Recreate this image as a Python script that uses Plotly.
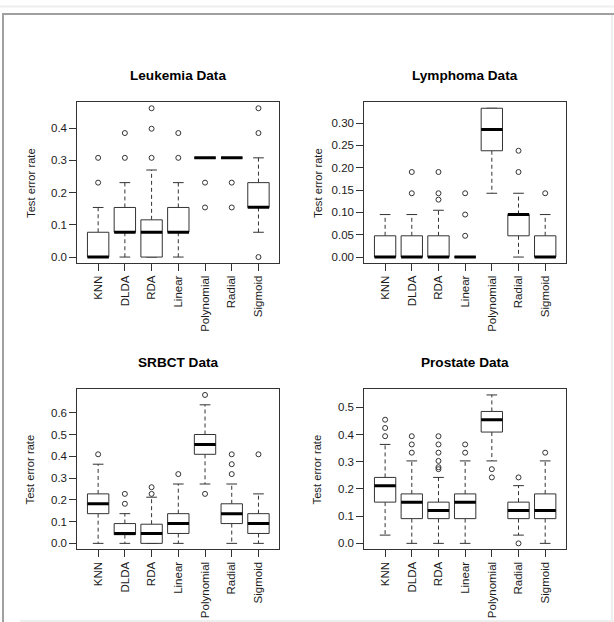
import plotly.graph_objects as go

W, H = 614, 622

methods = ["KNN", "DLDA", "RDA", "Linear", "Polynomial", "Radial", "Sigmoid"]
panel_titles = ["Leukemia Data", "Lymphoma Data", "SRBCT Data", "Prostate Data"]

# Per-panel box statistics: lower whisker, Q1, median, Q3, upper whisker, outliers
leuk_low = [0.0, 0.0, 0.0, 0.0, 0.3077, 0.3077, 0.0769]
leuk_q1 = [0.0, 0.0769, 0.0, 0.0769, 0.3077, 0.3077, 0.1538]
leuk_med = [0.0, 0.0769, 0.0769, 0.0769, 0.3077, 0.3077, 0.1548]
leuk_q3 = [0.0769, 0.1538, 0.1154, 0.1538, 0.3077, 0.3077, 0.2308]
leuk_up = [0.1538, 0.2308, 0.2700, 0.2308, 0.3077, 0.3077, 0.3077]
leuk_out = [[0.2308, 0.3077], [0.3077, 0.3846], [0.3077, 0.3980, 0.4615],
            [0.3077, 0.3846], [0.1538, 0.2308], [0.1538, 0.2308], [0.0, 0.3846, 0.4615]]

lymph_low = [0.0, 0.0, 0.0, 0.0, 0.1429, 0.0, 0.0]
lymph_q1 = [0.0, 0.0, 0.0, 0.0, 0.2381, 0.0476, 0.0]
lymph_med = [0.0, 0.0, 0.0, 0.0, 0.2857, 0.0952, 0.0]
lymph_q3 = [0.0476, 0.0476, 0.0476, 0.0, 0.3333, 0.0952, 0.0476]
lymph_up = [0.0952, 0.0952, 0.1048, 0.0, 0.3333, 0.1429, 0.0952]
lymph_out = [[], [0.1429, 0.1905], [0.1286, 0.1429, 0.1905], [0.0476, 0.0952, 0.1429],
             [], [0.1905, 0.2381], [0.1429]]

srbct_low = [0.0, 0.0, 0.0, 0.0, 0.2727, 0.0, 0.0]
srbct_q1 = [0.1364, 0.0400, 0.0, 0.0455, 0.4091, 0.0909, 0.0455]
srbct_med = [0.1818, 0.0455, 0.0455, 0.0909, 0.4545, 0.1364, 0.0909]
srbct_q3 = [0.2273, 0.0909, 0.0880, 0.1364, 0.5000, 0.1818, 0.1364]
srbct_up = [0.3636, 0.1364, 0.2120, 0.2727, 0.6364, 0.2727, 0.2273]
srbct_out = [[0.4091], [0.1818, 0.2273], [0.2273, 0.2580], [0.3182],
             [0.2273, 0.6818], [0.3182, 0.3636, 0.4091], [0.4091]]

prost_low = [0.0303, 0.0, 0.0, 0.0, 0.3030, 0.0303, 0.0]
prost_q1 = [0.1515, 0.0909, 0.0909, 0.0909, 0.4091, 0.0909, 0.0909]
prost_med = [0.2121, 0.1515, 0.1212, 0.1515, 0.4545, 0.1212, 0.1212]
prost_q3 = [0.2424, 0.1818, 0.1515, 0.1818, 0.4848, 0.1515, 0.1818]
prost_up = [0.3636, 0.3030, 0.2424, 0.3030, 0.5455, 0.2121, 0.3030]
prost_out = [[0.3939, 0.4242, 0.4545], [0.3333, 0.3636, 0.3939],
             [0.2727, 0.2800, 0.3030, 0.3333, 0.3636, 0.3939],
             [0.3333, 0.3636], [0.2424, 0.2727], [0.0, 0.2424], [0.3333]]

panels = [
    (leuk_low, leuk_q1, leuk_med, leuk_q3, leuk_up, leuk_out),
    (lymph_low, lymph_q1, lymph_med, lymph_q3, lymph_up, lymph_out),
    (srbct_low, srbct_q1, srbct_med, srbct_q3, srbct_up, srbct_out),
    (prost_low, prost_q1, prost_med, prost_q3, prost_up, prost_out),
]
y_dtick = [0.1, 0.05, 0.1, 0.1]
y_fmt = [".1f", ".2f", ".1f", ".1f"]

# plot-region pixel boxes (left, right, top, bottom)
boxes_px = [
    (77.3, 279.3, 102.3, 263.0),
    (364.3, 566.0, 102.3, 263.0),
    (77.3, 279.3, 389.0, 549.3),
    (364.3, 566.0, 389.0, 549.3),
]

FONT = "Liberation Sans, Arial, Helvetica, sans-serif"
INK = "#333333"
TXT = "#1a1a1a"
BW = 0.4   # half box width
SW = 0.2   # half staple width

fig = go.Figure()
layout = dict(
    width=W, height=H, margin=dict(l=0, r=0, t=0, b=0),
    paper_bgcolor="white", plot_bgcolor="white", showlegend=False,
    font=dict(family=FONT, size=11, color=TXT),
)
annotations = []
shapes = []

for p, (low, q1, med, q3, up, outs) in enumerate(panels):
    xa = "x" if p == 0 else f"x{p+1}"
    ya = "y" if p == 0 else f"y{p+1}"
    bx, by = [], []
    mx, my = [], []
    wx, wy = [], []
    sx, sy = [], []
    ox, oy = [], []
    for i in range(len(methods)):
        c = i + 1
        bx += [c - BW, c + BW, c + BW, c - BW, c - BW, None]
        by += [q1[i], q1[i], q3[i], q3[i], q1[i], None]
        mx += [c - BW, c + BW, None]
        my += [med[i], med[i], None]
        wx += [c, c, None, c, c, None]
        wy += [q3[i], up[i], None, q1[i], low[i], None]
        sx += [c - SW, c + SW, None, c - SW, c + SW, None]
        sy += [up[i], up[i], None, low[i], low[i], None]
        for v in outs[i]:
            ox.append(c)
            oy.append(v)
    fig.add_trace(go.Scatter(x=wx, y=wy, mode="lines", xaxis=xa, yaxis=ya,
                             line=dict(color=INK, width=1, dash="4px,3px"), hoverinfo="skip"))
    fig.add_trace(go.Scatter(x=sx, y=sy, mode="lines", xaxis=xa, yaxis=ya,
                             line=dict(color=INK, width=1), hoverinfo="skip"))
    fig.add_trace(go.Scatter(x=bx, y=by, mode="lines", fill="toself", fillcolor="white",
                             xaxis=xa, yaxis=ya, line=dict(color=INK, width=1), hoverinfo="skip"))
    fig.add_trace(go.Scatter(x=mx, y=my, mode="lines", xaxis=xa, yaxis=ya,
                             line=dict(color="black", width=3), hoverinfo="skip"))
    fig.add_trace(go.Scatter(x=ox, y=oy, mode="markers", xaxis=xa, yaxis=ya,
                             marker=dict(symbol="circle-open", size=5, color=INK,
                                         line=dict(width=1, color=INK)), hoverinfo="skip"))

    allv = low + up + [v for o in outs for v in o]
    vmin, vmax = min(allv), max(allv)
    ext = 0.04 * (vmax - vmin)
    n = len(methods)
    xr = [0.5 - 0.04 * n, n + 0.5 + 0.04 * n]

    l, r, t, b = boxes_px[p]
    xdom = [l / W, r / W]
    ydom = [1 - b / H, 1 - t / H]
    ticks_y = []
    k = 0
    while k * y_dtick[p] <= vmax + 1e-9:
        ticks_y.append(round(k * y_dtick[p], 4))
        k += 1
    ticktext_y = [format(v, y_fmt[p]) for v in ticks_y]

    axis_common = dict(showgrid=False, zeroline=False, showline=True, mirror=True,
                       linecolor=INK, linewidth=1, ticks="outside", ticklen=7,
                       tickcolor=INK, tickwidth=1,
                       tickfont=dict(family=FONT, size=11.5, color=TXT))
    layout["xaxis" if p == 0 else f"xaxis{p+1}"] = dict(
        domain=xdom, range=xr, tickmode="array", tickvals=list(range(1, n + 1)),
        ticktext=methods, tickangle=-90, anchor=ya, fixedrange=True, **axis_common)
    layout["yaxis" if p == 0 else f"yaxis{p+1}"] = dict(
        domain=ydom, range=[vmin - ext, vmax + ext], tickmode="array",
        tickvals=ticks_y, ticktext=ticktext_y, anchor=xa, fixedrange=True, **axis_common)

    annotations.append(dict(text=f"<b>{panel_titles[p]}</b>", xref="paper", yref="paper",
                            x=(l + r) / 2 / W, y=1 - (t - 26.6) / H, showarrow=False,
                            xanchor="center", yanchor="middle",
                            font=dict(family=FONT, size=13.6, color="black")))
    annotations.append(dict(text="Test error rate", xref="paper", yref="paper",
                            x=(l - 47) / W, y=1 - (t + b) / 2 / H, showarrow=False,
                            textangle=-90, xanchor="center", yanchor="middle",
                            font=dict(family=FONT, size=11.2, color=TXT)))

def hline(y, x0, x1, color, w):
    shapes.append(dict(type="line", xref="paper", yref="paper", x0=x0 / W, x1=x1 / W,
                       y0=1 - y / H, y1=1 - y / H, line=dict(color=color, width=w)))

def vline(x, y0, y1, color, w):
    shapes.append(dict(type="line", xref="paper", yref="paper", x0=x / W, x1=x / W,
                       y0=1 - y0 / H, y1=1 - y1 / H, line=dict(color=color, width=w)))

hline(6.5, 0, W, "#eeeeee", 2)
vline(612, 14, H, "#eeeeee", 2)
hline(621, 20, W, "#eeeeee", 2)
hline(14, 2, W, "#a0a0a0", 2)
vline(3, 14, H, "#a0a0a0", 2)

layout["annotations"] = annotations
layout["shapes"] = shapes
fig.update_layout(**layout)
fig.write_html("out.html", config={"displayModeBar": False},
               post_script="document.body.style.margin='0';document.body.style.overflow='hidden';")
